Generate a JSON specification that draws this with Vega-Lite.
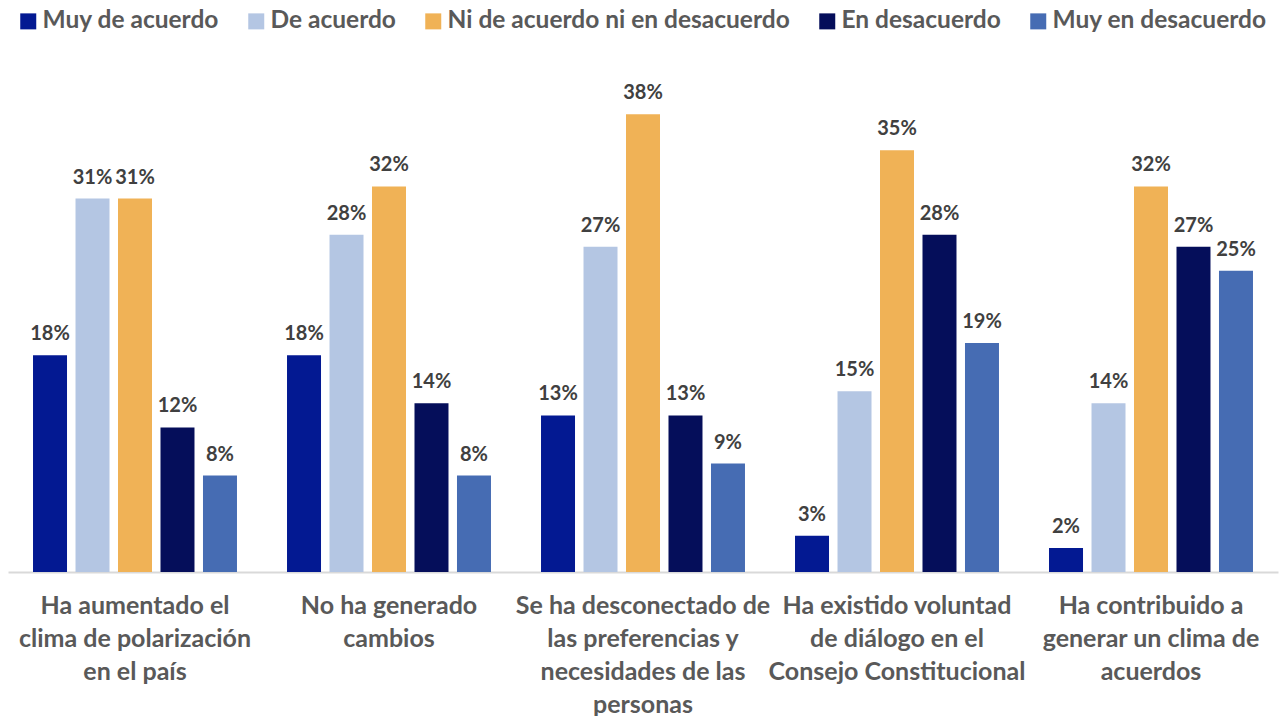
{
  "$schema": "https://vega.github.io/schema/vega-lite/v6.json",
  "autosize": {"type": "none"},
  "padding": {"left": 8, "top": 66, "right": 4, "bottom": 144},
  "width": 1270,
  "height": 506,
  "background": "white",
  "config": {"view": {"stroke": null}, "font": "Lato"},
  "data": {"values": [
    {"cat": "Ha aumentado el|clima de polarización|en el país", "resp": "Muy de acuerdo", "v": 0.18},
    {"cat": "Ha aumentado el|clima de polarización|en el país", "resp": "De acuerdo", "v": 0.31},
    {"cat": "Ha aumentado el|clima de polarización|en el país", "resp": "Ni de acuerdo ni en desacuerdo", "v": 0.31},
    {"cat": "Ha aumentado el|clima de polarización|en el país", "resp": "En desacuerdo", "v": 0.12},
    {"cat": "Ha aumentado el|clima de polarización|en el país", "resp": "Muy en desacuerdo", "v": 0.08},
    {"cat": "No ha generado|cambios", "resp": "Muy de acuerdo", "v": 0.18},
    {"cat": "No ha generado|cambios", "resp": "De acuerdo", "v": 0.28},
    {"cat": "No ha generado|cambios", "resp": "Ni de acuerdo ni en desacuerdo", "v": 0.32},
    {"cat": "No ha generado|cambios", "resp": "En desacuerdo", "v": 0.14},
    {"cat": "No ha generado|cambios", "resp": "Muy en desacuerdo", "v": 0.08},
    {"cat": "Se ha desconectado de|las preferencias y|necesidades de las|personas", "resp": "Muy de acuerdo", "v": 0.13},
    {"cat": "Se ha desconectado de|las preferencias y|necesidades de las|personas", "resp": "De acuerdo", "v": 0.27},
    {"cat": "Se ha desconectado de|las preferencias y|necesidades de las|personas", "resp": "Ni de acuerdo ni en desacuerdo", "v": 0.38},
    {"cat": "Se ha desconectado de|las preferencias y|necesidades de las|personas", "resp": "En desacuerdo", "v": 0.13},
    {"cat": "Se ha desconectado de|las preferencias y|necesidades de las|personas", "resp": "Muy en desacuerdo", "v": 0.09},
    {"cat": "Ha existido voluntad|de diálogo en el|Consejo Constitucional", "resp": "Muy de acuerdo", "v": 0.03},
    {"cat": "Ha existido voluntad|de diálogo en el|Consejo Constitucional", "resp": "De acuerdo", "v": 0.15},
    {"cat": "Ha existido voluntad|de diálogo en el|Consejo Constitucional", "resp": "Ni de acuerdo ni en desacuerdo", "v": 0.35},
    {"cat": "Ha existido voluntad|de diálogo en el|Consejo Constitucional", "resp": "En desacuerdo", "v": 0.28},
    {"cat": "Ha existido voluntad|de diálogo en el|Consejo Constitucional", "resp": "Muy en desacuerdo", "v": 0.19},
    {"cat": "Ha contribuido a|generar un clima de|acuerdos", "resp": "Muy de acuerdo", "v": 0.02},
    {"cat": "Ha contribuido a|generar un clima de|acuerdos", "resp": "De acuerdo", "v": 0.14},
    {"cat": "Ha contribuido a|generar un clima de|acuerdos", "resp": "Ni de acuerdo ni en desacuerdo", "v": 0.32},
    {"cat": "Ha contribuido a|generar un clima de|acuerdos", "resp": "En desacuerdo", "v": 0.27},
    {"cat": "Ha contribuido a|generar un clima de|acuerdos", "resp": "Muy en desacuerdo", "v": 0.25}
  ]},
  "encoding": {
    "x": {
      "field": "cat", "type": "nominal", "sort": null, "title": null,
      "scale": {"paddingInner": 0.197, "paddingOuter": 0.0985},
      "axis": {
        "labelAngle": 0, "labelExpr": "split(datum.label, '|')",
        "labelFontSize": 25, "labelFontWeight": "bold", "labelColor": "#595959",
        "labelLineHeight": 33, "labelPadding": 21, "ticks": false,
        "domainColor": "#D9D9D9", "domainWidth": 2, "labelLimit": 300
      }
    },
    "xOffset": {
      "field": "resp", "type": "nominal",
      "sort": ["Muy de acuerdo", "De acuerdo", "Ni de acuerdo ni en desacuerdo", "En desacuerdo", "Muy en desacuerdo"],
      "scale": {"paddingInner": 0.2, "paddingOuter": 0}
    },
    "y": {
      "field": "v", "type": "quantitative",
      "scale": {"domain": [0, 0.42]},
      "axis": null
    }
  },
  "layer": [
    {
      "mark": {"type": "bar"},
      "encoding": {
        "color": {
          "field": "resp", "type": "nominal",
          "scale": {
            "domain": ["Muy de acuerdo", "De acuerdo", "Ni de acuerdo ni en desacuerdo", "En desacuerdo", "Muy en desacuerdo"],
            "range": ["#031992", "#B4C6E3", "#F0B256", "#050E5A", "#466CB3"]
          },
          "legend": {
            "title": null, "orient": "none", "direction": "horizontal",
            "legendX": 8, "legendY": -57, "columns": 5,
            "symbolType": "square", "symbolSize": 256, "symbolStrokeWidth": 0,
            "labelFontSize": 24.5, "labelFontWeight": "bold", "labelColor": "#595959",
            "columnPadding": 25, "labelOffset": 2, "labelLimit": 500
          }
        }
      }
    },
    {
      "mark": {"type": "text", "baseline": "bottom", "dy": -11, "fontSize": 20, "fontWeight": "bold", "color": "#404040"},
      "encoding": {
        "text": {"field": "v", "type": "quantitative", "format": ".0%"}
      }
    }
  ]
}
